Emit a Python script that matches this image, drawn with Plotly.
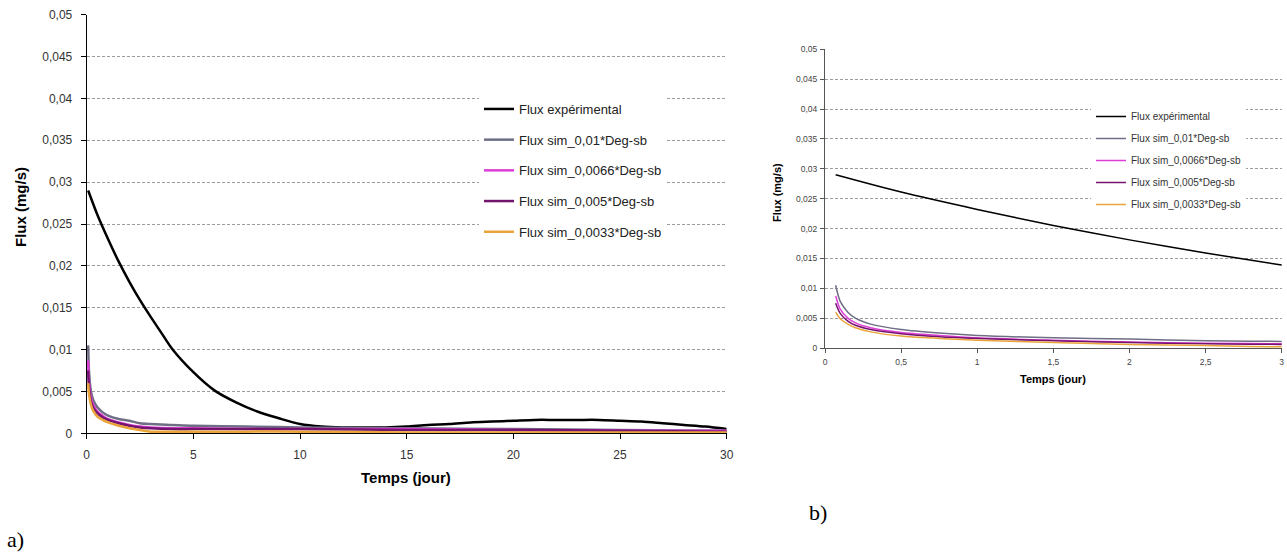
import plotly.graph_objects as go

# ---------------- data ----------------
t_exp = [0.07, 0.5, 1, 1.5, 2, 2.5, 3, 3.5, 4, 5, 6, 7, 8, 9, 10, 11, 12, 13, 14, 15,
         16, 17, 18, 19, 20, 21, 22, 23, 24, 25, 26, 27, 28, 29, 30]
flux_exp = [0.0290, 0.0261, 0.0232, 0.0205, 0.0181, 0.0159, 0.0139, 0.0120, 0.0101,
            0.0073, 0.0051, 0.0037, 0.0026, 0.0018, 0.0011, 0.0008, 0.0007, 0.0007,
            0.0007, 0.0008, 0.0010, 0.0011, 0.0013, 0.0014, 0.0015, 0.0016, 0.0016,
            0.0016, 0.0016, 0.0015, 0.0014, 0.0012, 0.0010, 0.0008, 0.0005]

t_sim = [0.07, 0.1, 0.15, 0.2, 0.3, 0.5, 0.75, 1, 1.5, 2, 2.5, 3, 4, 5, 7.5, 10, 15, 20, 25, 30]
flux_sim_001 = [0.0105, 0.0078, 0.0060, 0.0050, 0.0040, 0.0031, 0.0025, 0.0021, 0.0017,
                0.0015, 0.0012, 0.0011, 0.0010, 0.0009, 0.0008, 0.0007, 0.0006, 0.0005,
                0.0004, 0.0003]
flux_sim_00066 = [0.0087, 0.0065, 0.0050, 0.0042, 0.0034, 0.0026, 0.0021, 0.0017, 0.0013,
                  0.0010, 0.0008, 0.0007, 0.0006, 0.0006, 0.0005, 0.0005, 0.0005, 0.0004,
                  0.0003, 0.0003]
flux_sim_0005 = [0.0075, 0.0058, 0.0045, 0.0038, 0.0031, 0.0024, 0.0019, 0.0016, 0.0012,
                 0.0009, 0.0007, 0.0006, 0.0005, 0.0005, 0.0005, 0.0005, 0.0004, 0.0004,
                 0.0003, 0.0002]
flux_sim_00033 = [0.0060, 0.0049, 0.0040, 0.0034, 0.0027, 0.0020, 0.0016, 0.0013, 0.0009,
                  0.0006, 0.0004, 0.0002, 0.0002, 0.0002, 0.0002, 0.0002, 0.0001, 0.0001,
                  0.0001, 0.0001]

series_names = ["Flux expérimental", "Flux sim_0,01*Deg-sb", "Flux sim_0,0066*Deg-sb",
                "Flux sim_0,005*Deg-sb", "Flux sim_0,0033*Deg-sb"]

y_tickvals = [0, 0.005, 0.01, 0.015, 0.02, 0.025, 0.03, 0.035, 0.04, 0.045, 0.05]
y_ticktext = ["0", "0,005", "0,01", "0,015", "0,02", "0,025", "0,03", "0,035", "0,04",
              "0,045", "0,05"]
xa_tickvals = [0, 5, 10, 15, 20, 25, 30]
xa_ticktext = ["0", "5", "10", "15", "20", "25", "30"]
xb_tickvals = [0, 0.5, 1, 1.5, 2, 2.5, 3]
xb_ticktext = ["0", "0,5", "1", "1,5", "2", "2,5", "3"]

# ---------------- styles ----------------
colors = ["#000000", "#6e6e85", "#dd3fd6", "#74146f", "#eaa53a"]
W, H = 1287, 553
FONT = "Liberation Sans, Arial, sans-serif"

def px_x(p):
    return p / W

def px_y(p):
    return (H - p) / H

xs = [t_exp, t_sim, t_sim, t_sim, t_sim]
ys = [flux_exp, flux_sim_001, flux_sim_00066, flux_sim_0005, flux_sim_00033]

fig = go.Figure()
for i in range(5):
    fig.add_trace(go.Scatter(x=xs[i], y=ys[i], mode="lines", name=series_names[i],
                             line=dict(color=colors[i], width=2.5, shape="spline",
                                       smoothing=0.8),
                             xaxis="x", yaxis="y", legend="legend",
                             legendgroup="a%d" % i))
for i in range(5):
    fig.add_trace(go.Scatter(x=xs[i], y=ys[i], mode="lines", name=series_names[i],
                             line=dict(color=colors[i], width=1.5, shape="spline",
                                       smoothing=0.8),
                             xaxis="x2", yaxis="y2", legend="legend2",
                             legendgroup="b%d" % i))

grid = dict(showgrid=True, gridcolor="#9c9c9c", gridwidth=1, griddash="3px,2px")

fig.update_layout(
    width=W, height=H, autosize=False,
    margin=dict(l=0, r=0, t=0, b=0, pad=0, autoexpand=False),
    paper_bgcolor="white", plot_bgcolor="white",
    font=dict(family=FONT),
    xaxis=dict(domain=[px_x(86.7), px_x(726.7)], range=[0, 30], anchor="y",
               tickvals=xa_tickvals, ticktext=xa_ticktext, showgrid=False,
               zeroline=False, showline=True, linecolor="#000000", linewidth=1,
               ticks="outside", ticklen=5, tickcolor="#000000", automargin=False,
               tickfont=dict(size=12, color="#333333", family=FONT),
               ticklabelstandoff=5),
    yaxis=dict(domain=[px_y(433.3), px_y(14.7)], range=[0, 0.05], anchor="x",
               tickvals=y_tickvals, ticktext=y_ticktext, zeroline=False,
               showline=True, linecolor="#000000", linewidth=1, automargin=False,
               ticks="outside", ticklen=5, tickcolor="#000000",
               tickfont=dict(size=12, color="#333333", family=FONT),
               ticklabelstandoff=6, **grid),
    xaxis2=dict(domain=[px_x(825), px_x(1281.7)], range=[0, 3], anchor="y2",
                tickvals=xb_tickvals, ticktext=xb_ticktext, showgrid=False,
                zeroline=False, showline=True, linecolor="#555555", linewidth=1,
                ticks="outside", ticklen=4, tickcolor="#555555", automargin=False,
                tickfont=dict(size=8.5, color="#444444", family=FONT),
                ticklabelstandoff=2),
    yaxis2=dict(domain=[px_y(348), px_y(49.3)], range=[0, 0.05], anchor="x2",
                tickvals=y_tickvals, ticktext=y_ticktext, zeroline=False,
                showline=True, linecolor="#555555", linewidth=1, automargin=False,
                ticks="outside", ticklen=4, tickcolor="#555555",
                tickfont=dict(size=8.5, color="#444444", family=FONT),
                ticklabelstandoff=1, **grid),
    legend=dict(x=px_x(479), y=px_y(94), xanchor="left", yanchor="top",
                bgcolor="white", borderwidth=0, tracegroupgap=10.8,
                font=dict(size=13, color="#222222", family=FONT)),
    legend2=dict(x=px_x(1091), y=px_y(102), xanchor="left", yanchor="top",
                 bgcolor="white", borderwidth=0, tracegroupgap=3,
                 font=dict(size=10, color="#333333", family=FONT)),
    showlegend=True,
)

ann = [
    dict(text="<b>Flux (mg/s)</b>", x=px_x(20), y=px_y(207), textangle=-90,
         font=dict(size=15, color="#000000", family=FONT)),
    dict(text="<b>Temps (jour)</b>", x=px_x(406), y=px_y(477),
         font=dict(size=15, color="#000000", family=FONT)),
    dict(text="<b>Flux (mg/s)</b>", x=px_x(777), y=px_y(193), textangle=-90,
         font=dict(size=11, color="#000000", family=FONT)),
    dict(text="<b>Temps (jour)</b>", x=px_x(1053), y=px_y(379),
         font=dict(size=11, color="#000000", family=FONT)),
    dict(text="a)", x=px_x(15), y=px_y(539),
         font=dict(size=22, color="#000000", family="Liberation Serif, Times New Roman, serif")),
    dict(text="b)", x=px_x(818), y=px_y(512),
         font=dict(size=22, color="#000000", family="Liberation Serif, Times New Roman, serif")),
]
for a in ann:
    a.update(xref="paper", yref="paper", showarrow=False, xanchor="center", yanchor="middle")
fig.update_layout(annotations=ann)

fig.write_html("out.html",
               config={"displayModeBar": False},
               post_script="document.body.style.margin='0px';"
                           "document.body.style.overflow='hidden';")
